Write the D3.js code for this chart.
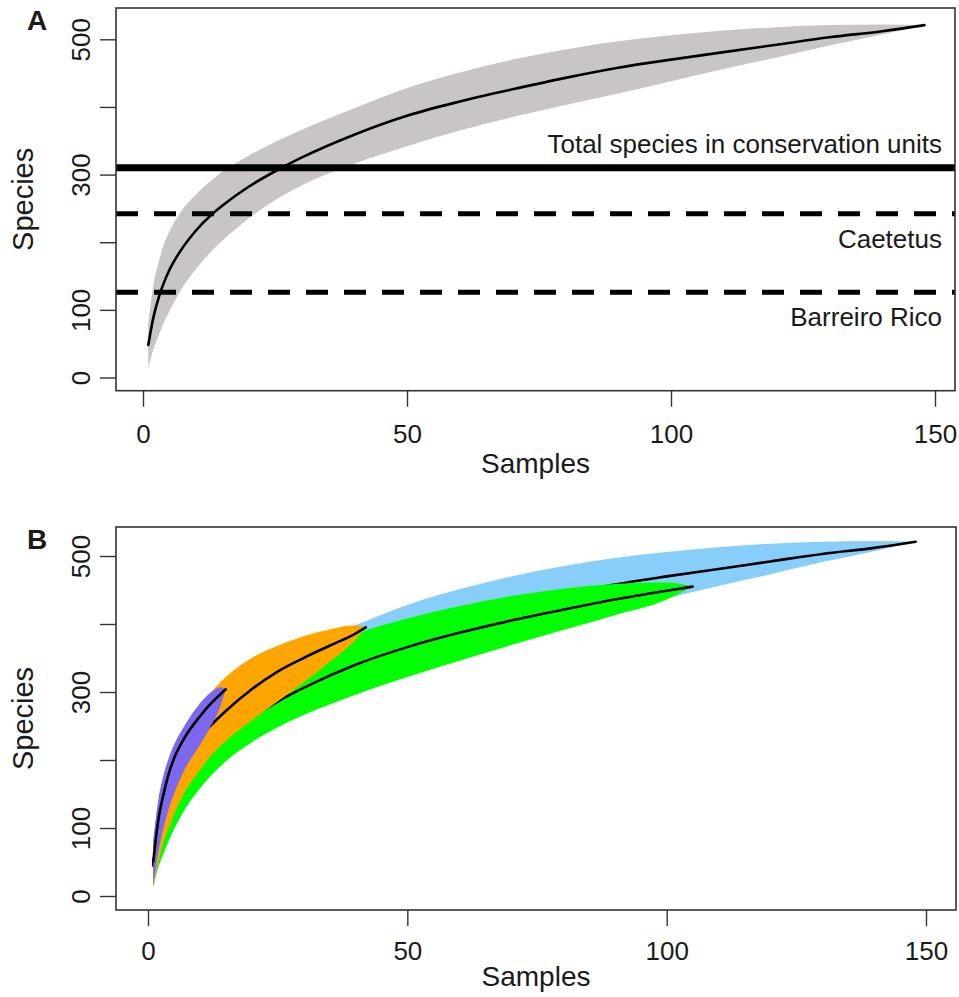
<!DOCTYPE html>
<html>
<head>
<meta charset="utf-8">
<script src="https://cdn.jsdelivr.net/npm/d3@7"></script>
<style>
body { margin: 0; background: #fff; }
text { font-family: "Liberation Sans", Arial, Helvetica, sans-serif; fill: #1a1a1a; }
</style>
</head>
<body>
<script>
// values
const xTicks = [0, 50, 100, 150];
const yTicks = [0, 100, 200, 300, 400, 500];
const yTickLabels = ["0", "100", "", "300", "", "500"];

// all 148 samples (grey band in A, light blue in B)
const allSamples = [1, 2, 3, 4, 5, 7, 10, 13, 15, 20, 26, 30, 40, 50, 60, 70, 80, 90, 100, 110, 120, 130, 140, 148];
const allMean    = [48, 90, 119, 141, 159, 186, 217, 241, 254, 282, 309, 325, 359, 387, 408, 426, 443, 458, 470, 481, 492, 503, 512, 521];
const allLower   = [14, 42, 63, 82, 98, 127, 160, 187, 202, 235, 267, 284, 316, 342, 365, 385, 403, 420, 438, 456, 473, 491, 507, 521];
const allUpper   = [80, 138, 172, 198, 216, 243, 270, 292, 304, 328, 352, 366, 398, 428, 451, 470, 485, 497, 506, 513, 518, 521, 522, 521];

// 105 samples (green)
const greenSamples = [1, 2, 3, 5, 7, 10, 15, 20, 25, 30, 40, 50, 60, 70, 80, 90, 100, 105];
const greenMean    = [45, 85, 112, 150, 180, 210, 237, 263, 286, 306, 340, 366, 387, 405, 421, 436, 449, 455];
const greenLower   = [15, 43, 63, 98, 126, 158, 198, 226, 248, 266, 296, 322, 346, 369, 391, 413, 436, 455];
const greenUpper   = [80, 125, 155, 195, 222, 250, 282, 306, 327, 346, 385, 408, 426, 441, 452, 459, 461, 455];

// 42 samples (orange)
const orangeSamples = [1, 2, 3, 4, 5, 7, 10, 12, 15, 20, 25, 30, 35, 40, 42];
const orangeMean    = [45, 95, 128, 152, 174, 205, 234, 250, 272, 304, 330, 350, 368, 386, 395];
const orangeLower   = [12, 50, 80, 100, 120, 152, 185, 205, 228, 258, 286, 314, 344, 377, 395];
const orangeUpper   = [75, 135, 172, 196, 214, 243, 278, 298, 322, 350, 368, 382, 392, 398, 395];

// 15 samples (purple)
const purpleSamples = [1, 2, 3, 4, 5, 7, 10, 12, 14, 15];
const purpleMean    = [50, 112, 150, 180, 202, 232, 264, 282, 297, 304];
const purpleLower   = [15, 65, 100, 128, 150, 185, 222, 248, 280, 304];
const purpleUpper   = [80, 142, 178, 203, 222, 250, 283, 299, 307, 304];

// reference lines in A
const refValues = [310, 242, 126];
const refLabels = ["Total species in conservation units", "Caetetus", "Barreiro Rico"];
const refDashed = [false, true, true];

function draw() {
    "use strict";

    let width = 959,
        height = 997;

    let svg = d3.select("body")
        .append("svg")
        .attr("width", width)
        .attr("height", height);

    let panels = [
        { id: "A", left: 116, right: 955, top: 8, bottom: 390.7, x0: 143, x150: 935, y0: 377.5, y500: 39.3,
          tickBase: 443, titleBase: 473 },
        { id: "B", left: 116, right: 956, top: 527, bottom: 910, x0: 148, x150: 926, y0: 896, y500: 556,
          tickBase: 960, titleBase: 986 }
    ];

    function zip(s, m, lo, hi) {
        return s.map(function (d, i) {
            return { s: d, mean: m[i], lo: lo[i], hi: hi[i] };
        });
    }

    let allData = zip(allSamples, allMean, allLower, allUpper);

    let seriesA = [
        { data: allData, fill: "#c9c5c5" }
    ];
    // drawn biggest first, so smaller sets sit on top
    let seriesB = [
        { data: allData, fill: "#87cefa" },
        { data: zip(greenSamples, greenMean, greenLower, greenUpper), fill: "#00ff00" },
        { data: zip(orangeSamples, orangeMean, orangeLower, orangeUpper), fill: "#ffa500" },
        { data: zip(purpleSamples, purpleMean, purpleLower, purpleUpper), fill: "#7b68ee" }
    ];

    panels.forEach(function (p, pi) {
        let g = svg.append("g").attr("class", "panel-" + p.id);

        let x = d3.scaleLinear().domain([0, 150]).range([p.x0, p.x150]);
        let y = d3.scaleLinear().domain([0, 500]).range([p.y0, p.y500]);

        let area = d3.area()
            .x(function (d) { return x(d.s); })
            .y0(function (d) { return y(d.lo); })
            .y1(function (d) { return y(d.hi); })
            .curve(d3.curveMonotoneX);

        let line = d3.line()
            .x(function (d) { return x(d.s); })
            .y(function (d) { return y(d.mean); })
            .curve(d3.curveMonotoneX);

        let series = pi === 0 ? seriesA : seriesB;

        series.forEach(function (sr) {
            g.append("path")
                .attr("d", area(sr.data))
                .attr("fill", sr.fill)
                .attr("stroke", "none");
            g.append("path")
                .attr("d", line(sr.data))
                .attr("fill", "none")
                .attr("stroke", "#000")
                .attr("stroke-width", 2.6)
                .attr("stroke-linecap", "round");
        });

        // reference lines (panel A only)
        if (pi === 0) {
            refValues.forEach(function (v, i) {
                g.append("line")
                    .attr("x1", p.left)
                    .attr("x2", p.right)
                    .attr("y1", y(v))
                    .attr("y2", y(v))
                    .attr("stroke", "#000")
                    .attr("stroke-width", refDashed[i] ? 5 : 7)
                    .attr("stroke-dasharray", refDashed[i] ? "22,16" : null);
                g.append("text")
                    .attr("x", p.right - 13)
                    .attr("y", i === 0 ? y(v) - 15 : y(v) + 34)
                    .attr("text-anchor", "end")
                    .style("font-size", "26px")
                    .text(refLabels[i]);
            });
        }

        // box
        g.append("rect")
            .attr("x", p.left)
            .attr("y", p.top)
            .attr("width", p.right - p.left)
            .attr("height", p.bottom - p.top)
            .attr("fill", "none")
            .attr("stroke", "#333")
            .attr("stroke-width", 1.6);

        // x axis
        let xAxis = g.append("g")
            .attr("transform", "translate(0," + p.bottom + ")")
            .call(d3.axisBottom(x).tickValues(xTicks).tickSize(16).tickFormat(d3.format("d")));
        xAxis.select(".domain").remove();
        xAxis.selectAll(".tick line").attr("stroke", "#333").attr("stroke-width", 1.4);
        xAxis.selectAll(".tick text")
            .attr("y", p.tickBase - p.bottom)
            .attr("dy", 0)
            .attr("fill", null)
            .style("font-size", "26px");

        // y axis, labels parallel to the axis
        let yAxis = g.append("g")
            .attr("transform", "translate(" + p.left + ",0)")
            .call(d3.axisLeft(y).tickValues(yTicks).tickSize(16)
                .tickFormat(function (d, i) { return yTickLabels[i]; }));
        yAxis.select(".domain").remove();
        yAxis.selectAll(".tick line").attr("stroke", "#333").attr("stroke-width", 1.4);
        yAxis.selectAll(".tick text")
            .attr("transform", "rotate(-90)")
            .attr("x", 0)
            .attr("y", -26)
            .attr("dy", 0)
            .attr("fill", null)
            .style("text-anchor", "middle")
            .style("font-size", "26px");

        // axis titles
        g.append("text")
            .attr("x", (p.left + p.right) / 2)
            .attr("y", p.titleBase)
            .attr("text-anchor", "middle")
            .style("font-size", "28px")
            .text("Samples");

        g.append("text")
            .attr("transform", "translate(33," + (p.top + p.bottom) / 2 + ") rotate(-90)")
            .attr("text-anchor", "middle")
            .style("font-size", "29px")
            .text("Species");

        // panel letter
        g.append("text")
            .attr("x", 27)
            .attr("y", p.top + 22)
            .style("font-size", "28px")
            .style("font-weight", "bold")
            .text(p.id);
    });
}

draw();
</script>
</body>
</html>
